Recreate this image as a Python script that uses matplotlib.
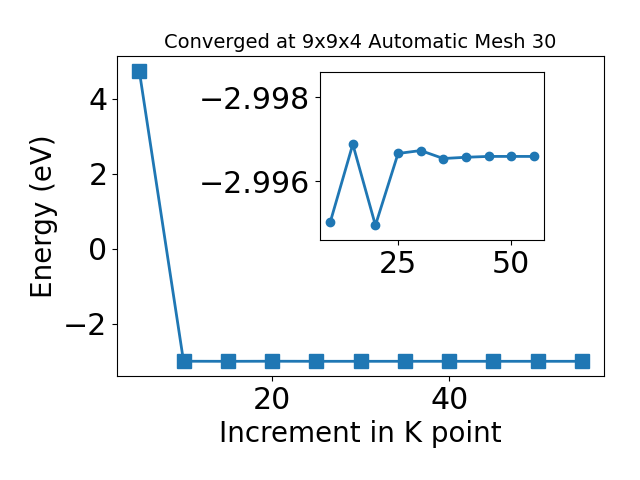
import numpy as np
import matplotlib
matplotlib.use('Agg')
import matplotlib.pyplot as plt

kpoints = [5, 10, 15, 20, 25, 30, 35, 40, 45, 50, 55]
energy = [4.75, -2.99502, -2.99688, -2.99495, -2.99666, -2.99673,
          -2.99654, -2.99657, -2.99659, -2.99659, -2.99659]

fig = plt.figure(figsize=(6.4, 4.8), dpi=100)
ax = fig.add_axes([0.183, 0.217, 0.761, 0.666])
ax.plot(kpoints, energy, marker='s', markersize=10, linewidth=2, color='tab:blue')
ax.set_title('Converged at 9x9x4 Automatic Mesh 30', fontsize=14)
ax.set_xlabel('Increment in K point', fontsize=20)
ax.set_ylabel('Energy (eV)', fontsize=20)
ax.tick_params(labelsize=21.6)
ax.set_yticks([-2, 0, 2, 4])
ax.set_xticks([20, 40])

# zoomed view of the converged part
ins = fig.add_axes([0.5, 0.5, 0.35, 0.35])
ins.plot(kpoints[1:], energy[1:], marker='o', markersize=6, linewidth=2, color='tab:blue')
ins.set_ylim(-2.9946, -2.9986)
ins.set_yticks([-2.998, -2.996])
ins.set_xticks([25, 50])
ins.tick_params(labelsize=21.6)

fig.savefig('out.png')
